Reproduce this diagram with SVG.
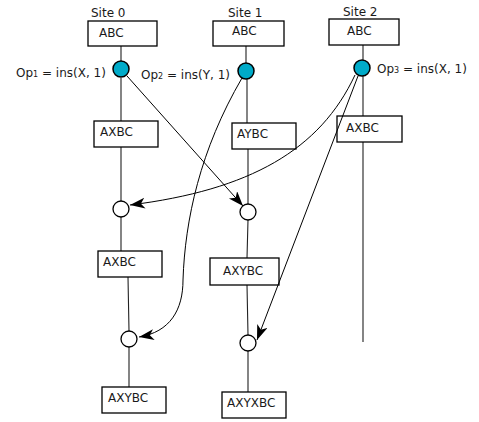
<svg xmlns="http://www.w3.org/2000/svg" width="479" height="422" viewBox="0 0 479 422">
<style>
text{font-family:"DejaVu Sans","Liberation Sans",sans-serif;font-size:12px;fill:#1a1a1a}
.box{fill:#fff;stroke:#000;stroke-width:1.3}
.op{fill:#00abc9;stroke:#000;stroke-width:1.5}
.m{fill:#fff;stroke:#000;stroke-width:1.3}
.v{stroke:#222;stroke-width:1.1;fill:none}
.c{stroke:#000;stroke-width:1;fill:none;marker-end:url(#ah)}
.sub{font-size:8px}
</style>
<defs>
<marker id="ah" markerUnits="userSpaceOnUse" markerWidth="16" markerHeight="12" refX="15" refY="5.5" orient="auto">
<path d="M0,0 L15,5.5 L0,11 L4,5.5 z" fill="#000"/>
</marker>
</defs>
<rect width="479" height="422" fill="#fff"/>
<g id="lanes">
<path class="v" d="M121,46V61M121,78V121M121,147V201M121,217V251M128,277L129,331M129,347V387"/>
<path class="v" d="M246,46V63M247,79V123M248,149V204M248,220L247,258M247,285L248,335M248,351V392"/>
<path class="v" d="M363,45V60M363,76V116M363,142V342"/>
</g>
<g id="labels">
<text x="91" y="17">Site 0</text>
<text x="228" y="17">Site 1</text>
<text x="343" y="16">Site 2</text>
</g>
<g id="s0-abc"><rect class="box" x="88" y="21" width="69" height="25"/><text x="99" y="37">ABC</text></g>
<g id="s1-abc"><rect class="box" x="213" y="21" width="71" height="25"/><text x="232" y="35">ABC</text></g>
<g id="s2-abc"><rect class="box" x="329" y="19" width="70" height="26"/><text x="347" y="35">ABC</text></g>
<g id="op1"><circle class="op" cx="121" cy="69" r="8"/><text x="16" y="77">Op<tspan class="sub">1</tspan> = ins(X, 1)</text></g>
<g id="op2"><circle class="op" cx="246" cy="71" r="8"/><text x="141" y="79">Op<tspan class="sub">2</tspan> = ins(Y, 1)</text></g>
<g id="op3"><circle class="op" cx="362" cy="68" r="8"/><text x="377" y="73">Op<tspan class="sub">3</tspan> = ins(X, 1)</text></g>
<g id="s0-axbc"><rect class="box" x="94" y="121" width="64" height="26"/><text x="100" y="136">AXBC</text></g>
<g id="s1-aybc"><rect class="box" x="232" y="123" width="64" height="26"/><text x="237" y="138">AYBC</text></g>
<g id="s2-axbc"><rect class="box" x="337" y="116" width="65" height="26"/><text x="346" y="132">AXBC</text></g>
<g id="s0-m1"><circle class="m" cx="121" cy="209" r="8"/></g>
<g id="s1-m1"><circle class="m" cx="248" cy="212" r="8"/></g>
<g id="s0-axbc2"><rect class="box" x="98" y="251" width="64" height="26"/><text x="103" y="266">AXBC</text></g>
<g id="s1-axybc"><rect class="box" x="210" y="258" width="69" height="27"/><text x="223" y="275">AXYBC</text></g>
<g id="s0-m2"><circle class="m" cx="129" cy="339" r="8"/></g>
<g id="s1-m2"><circle class="m" cx="248" cy="343" r="8"/></g>
<g id="s0-axybc"><rect class="box" x="102" y="387" width="64" height="26"/><text x="108" y="402">AXYBC</text></g>
<g id="s1-axyxbc"><rect class="box" x="222" y="392" width="64" height="26"/><text x="227" y="407">AXYXBC</text></g>
<g id="connectors">
<path class="c" d="M127,76 L243,206"/>
<path class="c" d="M242,78 C200,150 185,220 183,280 C183,310 170,332 139,337"/>
<path class="c" d="M355,75 C320,150 250,190 130,205"/>
<path class="c" d="M358,76 L257,340"/>
</g>
</svg>
